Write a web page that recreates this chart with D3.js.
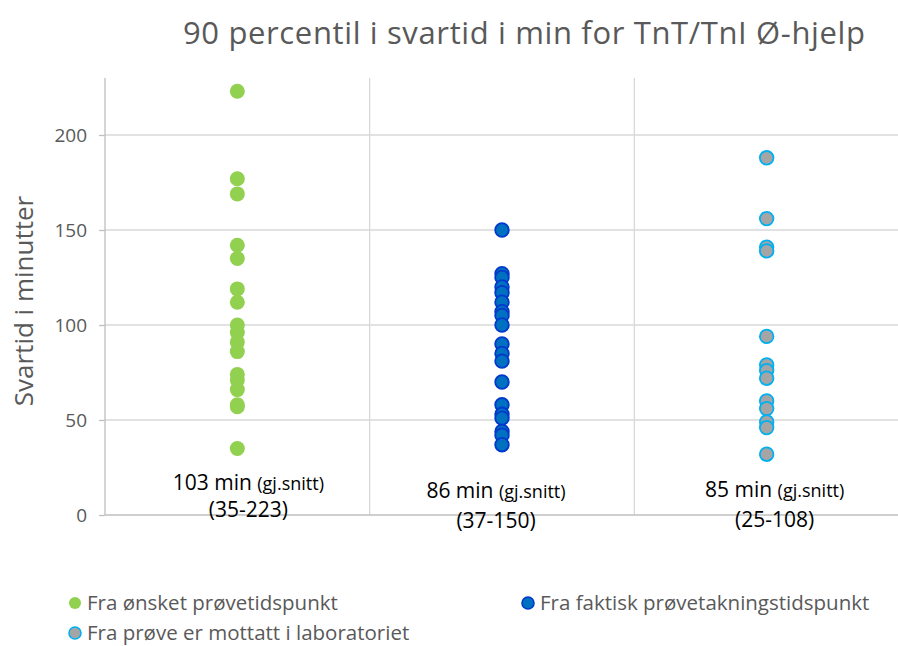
<!DOCTYPE html>
<html>
<head>
	<meta charset="utf-8">
	<title>Svartid TnT/TnI</title>
	<script type="text/javascript" src="https://cdnjs.cloudflare.com/ajax/libs/d3/7.8.5/d3.min.js"></script>
	<style>
		body { margin: 0; background: #fff; }
		text { font-family: "Open Sans", "Noto Sans", sans-serif; }
	</style>
</head>
<body>
<svg id="chart" width="898" height="646"></svg>
<script type="text/javascript">
	// data
	var categories = ["Fra ønsket prøvetidspunkt", "Fra faktisk prøvetakningstidspunkt", "Fra prøve er mottatt i laboratoriet"];
	var onsket = [223, 177, 169, 142, 135, 119, 112, 100, 96, 91, 86, 74, 71, 66, 58, 57, 35];
	var faktisk = [150, 127, 125, 120, 117, 112, 107, 105, 100, 90, 85, 81, 70, 58, 53, 51, 44, 42, 37];
	var mottatt = [188, 156, 141, 139, 94, 79, 76, 72, 60, 56, 49, 46, 32];
	var yTicks = [0, 50, 100, 150, 200];
	var meanLabels = ["103 min", "86 min", "85 min"];
	var rangeLabels = ["(35-223)", "(37-150)", "(25-108)"];

	var series = [onsket, faktisk, mottatt];
	var fills = ["#92D050", "#0070C0", "#A5A5A5"];
	var strokes = ["none", "#0039CC", "#00B0F0"];

	var svg = d3.select("#chart");
	var plotLeft = 105, plotRight = 899, plotTop = 78, plotBottom = 515;

	var x = d3.scaleBand().domain(categories).range([plotLeft, plotRight]);
	var y = d3.scaleLinear().domain([0, 230]).range([plotBottom, plotTop]);

	// title
	svg.append("text")
		.attr("x", 524).attr("y", 44)
		.attr("text-anchor", "middle")
		.attr("font-size", 31)
		.attr("fill", "#595959")
		.attr("textLength", 682)
		.text("90 percentil i svartid i min for TnT/TnI Ø-hjelp");

	// horizontal gridlines
	svg.append("g").selectAll("line").data(yTicks.filter(function(d) { return d > 0; }))
		.enter().append("line")
		.attr("x1", plotLeft).attr("x2", plotRight)
		.attr("y1", function(d) { return y(d); }).attr("y2", function(d) { return y(d); })
		.attr("stroke", "#D9D9D9").attr("stroke-width", 1.3);

	// vertical gridlines between categories
	svg.append("g").selectAll("line").data(categories.slice(1))
		.enter().append("line")
		.attr("x1", function(d) { return x(d); }).attr("x2", function(d) { return x(d); })
		.attr("y1", plotTop).attr("y2", plotBottom)
		.attr("stroke", "#D9D9D9").attr("stroke-width", 1.3);

	// y axis
	var yAxis = svg.append("g")
		.attr("transform", "translate(" + plotLeft + ",0)")
		.call(d3.axisLeft(y).tickValues(yTicks).tickSize(6).tickPadding(12));
	yAxis.select(".domain").attr("stroke", "#BFBFBF").attr("stroke-width", 1.3)
		.attr("d", "M0," + plotTop + "V" + plotBottom);
	yAxis.selectAll(".tick line").attr("stroke", "#BFBFBF").attr("stroke-width", 1.3);
	yAxis.selectAll(".tick text")
		.attr("fill", "#595959").attr("font-size", 19)
		.style("font-family", "'Open Sans', sans-serif");

	// x axis line
	svg.append("line")
		.attr("x1", plotLeft).attr("x2", plotRight)
		.attr("y1", plotBottom).attr("y2", plotBottom)
		.attr("stroke", "#BFBFBF").attr("stroke-width", 1.3);

	// y axis title
	svg.append("text")
		.attr("transform", "translate(33,301) rotate(-90)")
		.attr("text-anchor", "middle")
		.attr("font-size", 26)
		.attr("fill", "#595959")
		.text("Svartid i minutter");

	// points
	series.forEach(function(vals, i) {
		var cx = x(categories[i]) + x.bandwidth() / 2;
		svg.append("g").selectAll("circle").data(vals)
			.enter().append("circle")
			.attr("cx", cx)
			.attr("cy", function(d) { return y(d); })
			.attr("r", i === 0 ? 7.5 : 6.8)
			.attr("fill", fills[i])
			.attr("stroke", strokes[i])
			.attr("stroke-width", 1.8);
	});

	// mean / range annotations
	var annoPos = [[11, 483, 510], [-6, 491, 521], [8, 490, 520]];
	categories.forEach(function(c, i) {
		var cx = x(c) + x.bandwidth() / 2 + annoPos[i][0];
		var t = svg.append("text")
			.attr("x", cx).attr("y", annoPos[i][1] + 7)
			.attr("text-anchor", "middle")
			.attr("font-size", 21).attr("fill", "#000");
		t.append("tspan").text(meanLabels[i] + " ");
		t.append("tspan").attr("font-size", 18).text("(gj.snitt)");
		svg.append("text")
			.attr("x", cx).attr("y", annoPos[i][2] + 7)
			.attr("text-anchor", "middle")
			.attr("font-size", 21).attr("fill", "#000")
			.text(rangeLabels[i]);
	});

	// legend
	var legendPos = [[75, 603], [528, 603], [75, 633]];
	var legend = svg.append("g").selectAll("g").data(categories)
		.enter().append("g")
		.attr("transform", function(d, i) { return "translate(" + legendPos[i][0] + "," + legendPos[i][1] + ")"; });
	legend.append("circle")
		.attr("r", 6)
		.attr("fill", function(d, i) { return fills[i]; })
		.attr("stroke", function(d, i) { return strokes[i]; })
		.attr("stroke-width", 1.6);
	legend.append("text")
		.attr("x", 12).attr("y", 7)
		.attr("font-size", 20.5).attr("fill", "#595959")
		.text(function(d) { return d; });
</script>
</body>
</html>
